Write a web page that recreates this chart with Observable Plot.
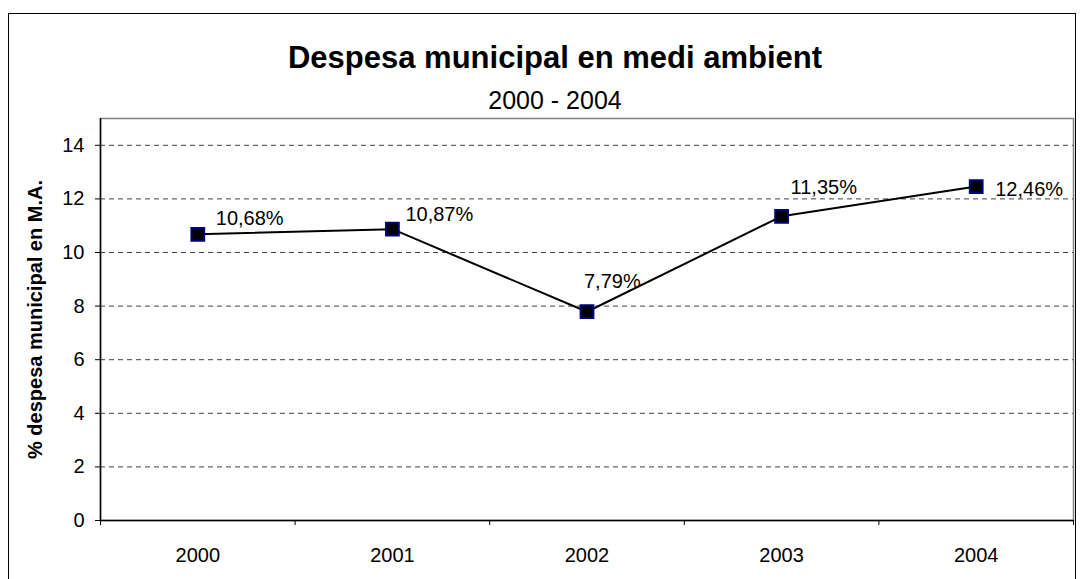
<!DOCTYPE html>
<html><head><meta charset="utf-8">
<script src="https://cdn.jsdelivr.net/npm/d3@7"></script>
<script src="https://cdn.jsdelivr.net/npm/@observablehq/plot@0.6"></script>
<style>
body{margin:0;background:#fff;font-family:"Liberation Sans",Arial,sans-serif;}
#frame{position:absolute;left:8px;top:13px;width:1068px;height:600px;border:1px solid #000;box-sizing:border-box;}
#head{position:absolute;left:0;top:0;width:1083px;height:110px;text-align:center;}
#t1{position:absolute;left:0;width:1110px;top:40px;font-size:31px;font-weight:bold;line-height:36px;}
#t2{position:absolute;left:0;width:1110px;top:86px;font-size:25px;line-height:29px;}
#chart{position:absolute;left:0;top:110px;width:1083px;height:469px;}
</style></head>
<body>
<div id="frame"></div>
<div id="head"><div id="t1">Despesa municipal en medi ambient</div><div id="t2">2000 - 2004</div></div>
<div id="chart"></div>
<script>
const years = [2000, 2001, 2002, 2003, 2004];
const values = [10.68, 10.87, 7.79, 11.35, 12.46];
const labels = ["10,68%", "10,87%", "7,79%", "11,35%", "12,46%"];
const yTicks = [0, 2, 4, 6, 8, 10, 12, 14];
const labelDx = [18, 13, -3, 9, 19];
const labelDy = [-16, -15, -30, -29, 3];

const data = years.map((y, i) => ({year: y, value: values[i], label: labels[i], dx: labelDx[i], dy: labelDy[i]}));
const bounds = d3.range(years[0] - 0.5, years[years.length - 1] + 1, 1);

const plot = Plot.plot({
  width: 1083, height: 469,
  marginTop: 8, marginLeft: 100, marginRight: 10, marginBottom: 59,
  style: {fontFamily: "'Liberation Sans', Arial, sans-serif", fontSize: "20px", background: "transparent", maxWidth: "none"},
  x: {domain: [years[0] - 0.5, years[years.length - 1] + 0.5]},
  y: {domain: [0, 15]},
  marks: [
    Plot.frame({stroke: "#808080", strokeWidth: 1.5}),
    Plot.gridY(yTicks.filter(d => d > 0), {stroke: "#000", strokeOpacity: 0.75, strokeDasharray: "5,4", strokeWidth: 1}),
    Plot.ruleX([years[0] - 0.5], {stroke: "#000", strokeWidth: 1.5}),
    Plot.ruleY([0], {stroke: "#000", strokeWidth: 1.5}),
    Plot.axisY({ticks: yTicks, tickSize: 5, tickPadding: 11, fontSize: 20, label: "% despesa municipal en M.A.", labelAnchor: "center", labelOffset: 73, labelArrow: "none", color: "#000"}),
    Plot.axisX({ticks: bounds, tickSize: 5, tickFormat: () => "", label: null}),
    Plot.axisX({ticks: years, tickSize: 0, tickPadding: 27, tickFormat: d => String(d), fontSize: 20, label: null}),
    ...data.map(d => Plot.text([d], {x: "year", y: "value", text: "label", textAnchor: "start", dx: d.dx, dy: d.dy, fontSize: 20, fill: "#000"})),
    Plot.line(data, {x: "year", y: "value", stroke: "#000", strokeWidth: 2}),
    Plot.dot(data, {x: "year", y: "value", symbol: "square", r: 7.2, fill: "#000", stroke: "#000080", strokeWidth: 2})
  ]
});
plot.style.display = "block";
document.getElementById("chart").appendChild(plot);
plot.querySelectorAll("[aria-label='y-axis label'] text, [aria-label='y-axis label']").forEach(el => { el.setAttribute("font-weight", "bold"); el.setAttribute("font-size", "20"); });
</script>
</body></html>
